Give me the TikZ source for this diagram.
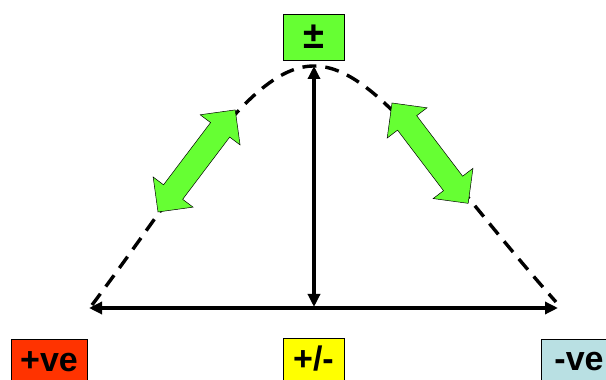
\documentclass[tikz,border=0pt]{standalone}
\usepackage{fontspec}
\setmainfont{Liberation Sans}
\usetikzlibrary{arrows.meta}
\definecolor{boxgreen}{HTML}{66FF33}
\definecolor{boxred}{HTML}{FF3300}
\definecolor{boxyellow}{HTML}{FFFF00}
\definecolor{boxcyan}{HTML}{B9E0E3}
\tikzset{
  lbl/.style={draw=black, line width=0.6pt, inner sep=0pt, font=\fontsize{34}{34}\selectfont\bfseries},
  txt/.style={inner sep=0pt, font=\fontsize{34}{34}\selectfont\bfseries},
  boxframe/.style={draw=black, line width=0.6pt},
  axis/.style={line width=3.4pt, {Triangle[length=13pt,width=12pt]}-{Triangle[length=13pt,width=12pt]}},
  curve/.style={line width=3.4pt, dash pattern=on 14pt off 9pt},
  blockarrow/.style={draw=black, line width=0.5pt, fill=boxgreen}
}
\newcommand{\dblblock}[3]{% start, angle, length
  \draw[blockarrow, shift={#1}, rotate=#2]
    (0,0) -- (25,25) -- (25,12) -- ({#3-25},12) -- ({#3-25},25) -- (#3,0)
    -- ({#3-25},-25) -- ({#3-25},-12) -- (25,-12) -- (25,-25) -- cycle;}
\begin{document}
\begin{tikzpicture}[x=1pt,y=1pt]
\clip (0,0) rectangle (606,380);
\fill[white] (0,0) rectangle (606,380);
% boxes
\node[lbl, fill=boxgreen, minimum width=61pt, minimum height=46pt, font=\fontsize{38}{38}\selectfont\bfseries] (pm) at (313.5,343) {±};
\filldraw[boxframe, fill=boxred] (11,-6) rectangle (87,41);
\filldraw[boxframe, fill=boxyellow] (283,-6) rectangle (344,42);
\filldraw[boxframe, fill=boxcyan] (541,-6) rectangle (620,41);
\node[txt] (pos) at (49,18) {+ve};
\node[txt] (mix) at (313.5,21) {+/-};
\node[txt] (neg) at (579,18) {-ve};
% axes
\coordinate (L) at (89,72);
\coordinate (R) at (558,72);
\coordinate (B) at (314,73);
\coordinate (T) at (314,314);
\draw[axis] (L) -- (R);
\draw[axis] (B) -- (T);
% curve
\coordinate (cl) at (92,75);
\coordinate (cp) at (314,314);
\coordinate (cr) at (556,78);
\draw[curve] (cl) .. controls (187,201) and (250,314) .. (cp)
  .. controls (378,314) and (444,204) .. (cr);
% green double arrows
\dblblock{(158,168)}{52.9}{128}
\dblblock{(392,277)}{-52.8}{126}
\end{tikzpicture}
\end{document}
